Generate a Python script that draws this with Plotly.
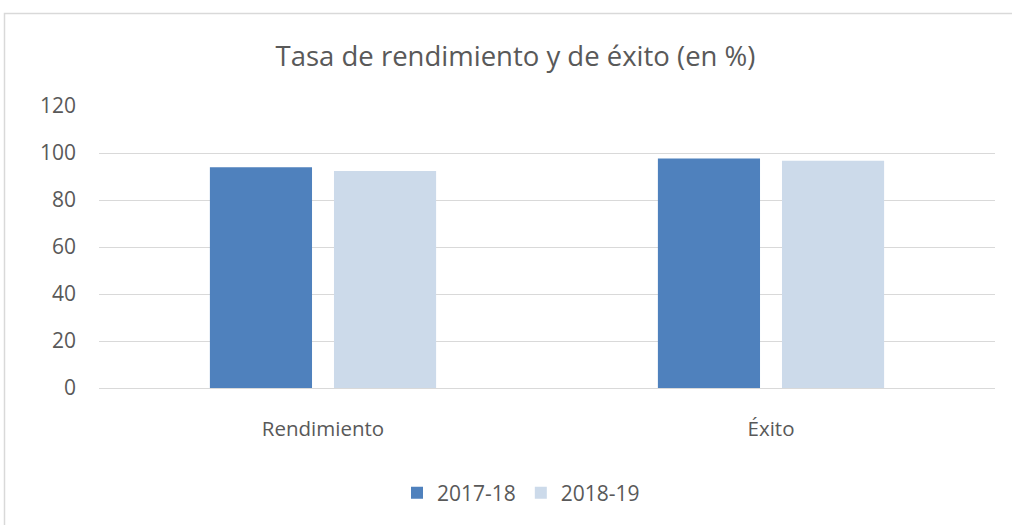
import plotly.graph_objects as go

categorias = ["Rendimiento", "Éxito"]
serie_2017_18 = [93.9, 97.7]
serie_2018_19 = [92.3, 96.7]
nombres_series = ["2017-18", "2018-19"]
ticks_y = [0, 20, 40, 60, 80, 100, 120]

W, H = 1012, 525
ml, mr, mt, mb = 99, 17, 106, 137
pw, ph = W - ml - mr, H - mt - mb

def px_x(p):
    return (p - ml) / pw

def px_y(p):
    return (H - mb - p) / ph

texto = "#595959"
fuente = "Open Sans"

fig = go.Figure()
fig.add_trace(go.Bar(x=categorias, y=serie_2017_18, name=nombres_series[0],
                     marker=dict(color="#4F81BD", line=dict(width=0))))
fig.add_trace(go.Bar(x=categorias, y=serie_2018_19, name=nombres_series[1],
                     marker=dict(color="#CCDAEA", line=dict(width=0))))

fig.update_layout(
    width=W, height=H,
    margin=dict(l=ml, r=mr, t=mt, b=mb),
    paper_bgcolor="white", plot_bgcolor="white",
    barmode="group", bargap=0.446, bargroupgap=0.177,
    font=dict(family=fuente, color=texto, size=20),
    title=dict(text="Tasa de rendimiento y de éxito (en %)",
               x=515.5 / W, xanchor="center", y=1 - 56 / H, yanchor="middle",
               font=dict(family=fuente, size=27.5, color=texto)),
    showlegend=True,
    legend=dict(orientation="h", x=px_x(521), xanchor="center",
                y=px_y(493), yanchor="middle",
                font=dict(family=fuente, size=21, color=texto),
                itemwidth=30, traceorder="normal"),
    xaxis=dict(showgrid=False, showline=True, linecolor="#D9D9D9", linewidth=1,
               ticks="", ticklabelstandoff=22,
               tickfont=dict(size=20.5, color=texto)),
    yaxis=dict(range=[0, 120], tickvals=ticks_y, showgrid=True,
               gridcolor="#D9D9D9", gridwidth=1, zeroline=False,
               showline=False, ticks="", ticklabelstandoff=22,
               tickfont=dict(size=21, color=texto)),
    shapes=[dict(type="rect", xref="paper", yref="paper",
                 x0=px_x(4.5), x1=px_x(W + 10), y0=px_y(H + 10), y1=px_y(13.5),
                 line=dict(color="#D9D9D9", width=1.5), layer="below")],
)

fig.write_html("out.html")
